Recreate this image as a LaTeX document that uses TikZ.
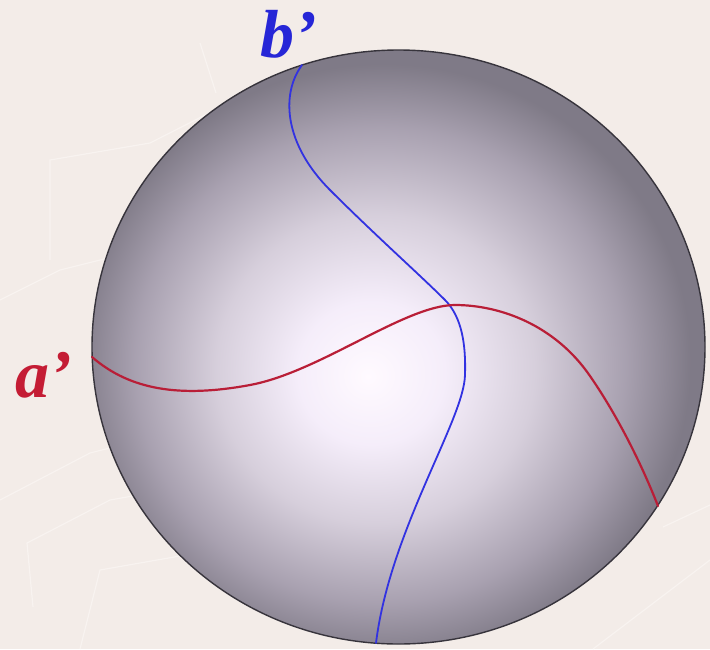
\documentclass[tikz,border=0pt]{standalone}
\usepackage{fontspec}
\setmainfont{Liberation Serif}
\definecolor{bgcol}{RGB}{243,236,232}
\definecolor{bgline}{RGB}{248,243,240}
\definecolor{rimcol}{RGB}{55,52,60}
\definecolor{bluecol}{RGB}{50,50,225}
\definecolor{redcol}{RGB}{185,30,55}
\definecolor{bluetxt}{RGB}{38,38,215}
\definecolor{redtxt}{RGB}{196,28,52}
\pgfdeclareradialshading{spheresh}{\pgfpoint{-2.5bp}{-2.5bp}}{%
  rgb(0bp)=(1,0.98,1);
  rgb(6bp)=(0.96,0.93,0.98);
  rgb(13bp)=(0.84,0.81,0.86);
  rgb(20bp)=(0.66,0.63,0.69);
  rgb(25bp)=(0.50,0.48,0.53);
  rgb(50bp)=(0.48,0.46,0.51)}
\tikzset{
  bgstroke/.style={draw=bgline, line width=1.2pt},
  curveblue/.style={draw=bluecol, line width=1.8pt, line cap=round},
  curvered/.style={draw=redcol, line width=2.2pt, line cap=round},
  lbl/.style={inner sep=0pt, font=\fontsize{68}{70}\selectfont\bfseries\itshape}
}
\begin{document}
\begin{tikzpicture}[x=1pt,y=-1pt]
\fill[bgcol] (0,0) rectangle (710,649);
\useasboundingbox (0,0) rectangle (710,649);
% faint background pattern
\draw[bgstroke] (0,500) -- (90,453) -- (300,400);
\draw[bgstroke] (33,607) -- (27,543) -- (110,500) -- (280,470);
\draw[bgstroke] (80,649) -- (100,570) -- (157,560) -- (330,530);
\draw[bgstroke] (50,260) -- (50,160) -- (150,143) -- (215,110);
\draw[bgstroke] (0,300) -- (60,270) -- (120,255);
\draw[bgstroke] (200,43) -- (216,93);
\draw[bgstroke] (663,527) -- (710,505);
\draw[bgstroke] (593,649) -- (710,560);
% sphere
\coordinate (ctr) at (398.5,347);
\draw[rimcol, line width=1.4pt, shading=spheresh] (ctr) ellipse [x radius=306.5pt, y radius=297pt];
% curves
\coordinate (btop) at (302,65);
\coordinate (b1) at (330,190);
\coordinate (bx) at (445,300);
\coordinate (b2) at (465,375);
\coordinate (bbot) at (376,643);
\coordinate (aleft) at (92,357);
\coordinate (a1) at (250,385);
\coordinate (apeak) at (455,305);
\coordinate (a2) at (590,376);
\coordinate (aright) at (658,506);
\draw[curveblue] (btop) .. controls (280,95) and (285,145) .. (b1)
  .. controls (375,235) and (420,275) .. (bx)
  .. controls (462,317) and (466,345) .. (b2)
  .. controls (464,420) and (390,530) .. (bbot);
\draw[curvered] (aleft) .. controls (130,390) and (180,398) .. (a1)
  .. controls (320,372) and (405,305) .. (apeak)
  .. controls (500,305) and (555,325) .. (a2)
  .. controls (615,412) and (640,460) .. (aright);
% labels
\node[lbl, text=bluetxt, anchor=base west] (lb) at (260,57) {b’};
\node[lbl, text=redtxt, anchor=base west] (la) at (15,397) {a’};
\end{tikzpicture}
\end{document}
